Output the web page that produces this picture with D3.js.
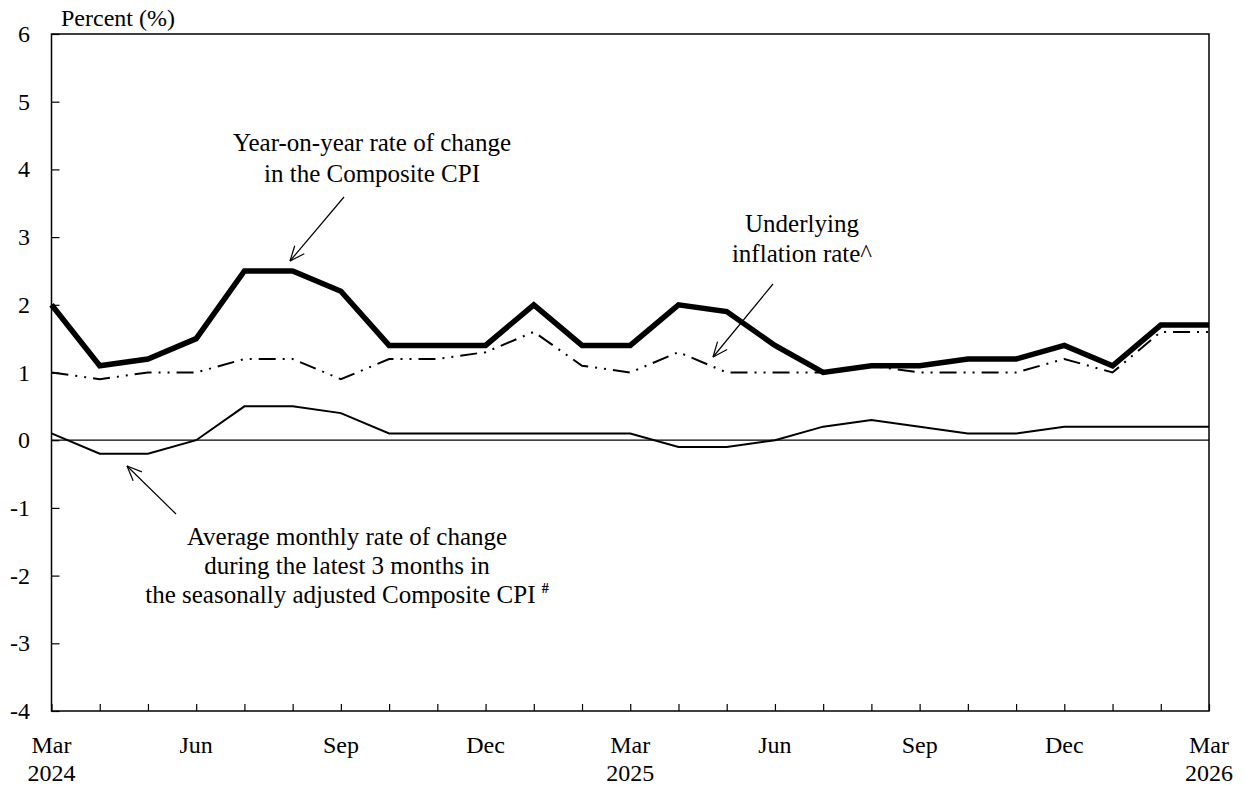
<!DOCTYPE html>
<html>
<head>
<meta charset="utf-8">
<script src="https://cdn.jsdelivr.net/npm/d3@7/dist/d3.min.js"></script>
<style>
  html, body { margin: 0; padding: 0; background: #fff; }
  svg text { font-family: "Liberation Serif", "Times New Roman", serif; fill: #000; }
</style>
</head>
<body>
<svg id="chart" width="1247" height="785"></svg>
<script>
// ---- Data ----
const months = ["Mar","Apr","May","Jun","Jul","Aug","Sep","Oct","Nov","Dec","Jan","Feb",
                "Mar","Apr","May","Jun","Jul","Aug","Sep","Oct","Nov","Dec","Jan","Feb","Mar"];
const years = ["2024","","","","","","","","","","","","2025","","","","","","","","","","","","2026"];
const compositeYoY = [2.0,1.1,1.2,1.5,2.5,2.5,2.2,1.4,1.4,1.4,2.0,1.4,1.4,2.0,1.9,1.4,1.0,1.1,1.1,1.2,1.2,1.4,1.1,1.7,1.7];
const underlying   = [1.0,0.9,1.0,1.0,1.2,1.2,0.9,1.2,1.2,1.3,1.6,1.1,1.0,1.3,1.0,1.0,1.0,1.1,1.0,1.0,1.0,1.2,1.0,1.6,1.6];
const avgMonthly3m = [0.1,-0.2,-0.2,0.0,0.5,0.5,0.4,0.1,0.1,0.1,0.1,0.1,0.1,-0.1,-0.1,0.0,0.2,0.3,0.2,0.1,0.1,0.2,0.2,0.2,0.2];
const yTicks = [6,5,4,3,2,1,0,-1,-2,-3,-4];
const labelEvery = 3;

// ---- Layout ----
const L = 51.5, R = 1209, T = 34, B = 711;
const FS = 24, FA = 25;
const svg = d3.select("#chart");
const x = d3.scaleLinear().domain([0, months.length - 1]).range([L, R]);
const y = d3.scaleLinear().domain([-4, 6]).range([B, T]);

// frame
svg.append("rect").attr("x", L).attr("y", T).attr("width", R - L).attr("height", B - T)
  .attr("fill", "none").attr("stroke", "#000").attr("stroke-width", 1.5);

// y axis (ticks inward)
const yAxis = d3.axisRight(y).tickValues(yTicks).tickSize(8).tickFormat("");
const gy = svg.append("g").attr("transform", `translate(${L},0)`).call(yAxis);
gy.select(".domain").remove();
gy.selectAll("line").attr("stroke", "#000").attr("stroke-width", 1.2);
svg.append("g").selectAll("text").data(yTicks).join("text")
  .attr("x", 30).attr("y", d => y(d) + 8).attr("text-anchor", "end")
  .attr("font-size", FS).text(d => d);

// x axis (ticks inward)
const xAxis = d3.axisTop(x).tickValues(d3.range(months.length)).tickSize(7).tickFormat("");
const gx = svg.append("g").attr("transform", `translate(0,${B})`).call(xAxis);
gx.select(".domain").remove();
gx.selectAll("line").attr("stroke", "#000").attr("stroke-width", 1.2);
const lab = svg.append("g");
months.forEach((m, i) => {
  if (i % labelEvery !== 0) return;
  lab.append("text").attr("x", x(i)).attr("y", 753).attr("text-anchor", "middle").attr("font-size", FS).text(m);
  if (years[i]) lab.append("text").attr("x", x(i)).attr("y", 781).attr("text-anchor", "middle").attr("font-size", FS).text(years[i]);
});

svg.append("text").attr("x", 61).attr("y", 26).attr("font-size", FS).text("Percent (%)");

// zero line
svg.append("line").attr("x1", L).attr("x2", R).attr("y1", y(0)).attr("y2", y(0))
  .attr("stroke", "#000").attr("stroke-width", 1.2);

const line = d3.line().x((d, i) => x(i)).y(d => y(d));

svg.append("path").datum(avgMonthly3m).attr("d", line).attr("fill", "none")
  .attr("stroke", "#000").attr("stroke-width", 2);
svg.append("path").datum(underlying).attr("d", line).attr("fill", "none")
  .attr("stroke", "#000").attr("stroke-width", 2).attr("stroke-dasharray", "17,7,2,7,2,7");
svg.append("path").datum(compositeYoY).attr("d", line).attr("fill", "none")
  .attr("stroke", "#000").attr("stroke-width", 5.5).attr("stroke-linejoin", "miter");

// annotations
function textBlock(lines, cx, y0, dy) {
  lines.forEach((t, i) => {
    svg.append("text").attr("x", cx).attr("y", y0 + i * dy).attr("text-anchor", "middle")
      .attr("font-size", FA).html(t);
  });
}
textBlock(["Year-on-year rate of change", "in the Composite CPI"], 372, 151, 31);
textBlock(["Underlying", "inflation rate^"], 802, 232, 30);
textBlock(["Average monthly rate of change", "during the latest 3 months in",
           "the seasonally adjusted Composite CPI <tspan font-size='14' font-weight='bold' dy='-10'>#</tspan>"], 347, 545, 29);

function arrow(x1, y1, x2, y2) {
  const g = svg.append("g").attr("stroke", "#000").attr("stroke-width", 1.2).attr("fill", "none");
  g.append("line").attr("x1", x1).attr("y1", y1).attr("x2", x2).attr("y2", y2);
  const a = Math.atan2(y1 - y2, x1 - x2), len = 16, sp = 0.4;
  [a - sp, a + sp].forEach(b => {
    g.append("line").attr("x1", x2).attr("y1", y2)
      .attr("x2", x2 + len * Math.cos(b)).attr("y2", y2 + len * Math.sin(b));
  });
}
arrow(344, 197, 290, 261);
arrow(773, 284, 713, 357);
arrow(176, 514, 127, 466);
</script>
</body>
</html>
